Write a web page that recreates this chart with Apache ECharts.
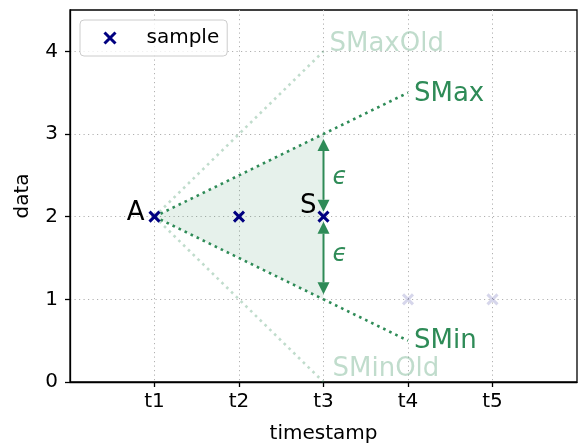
<!DOCTYPE html>
<html>
<head>
<meta charset="utf-8">
<script src="https://cdn.jsdelivr.net/npm/echarts@6/dist/echarts.min.js"></script>
<style>
  html, body { margin: 0; padding: 0; background: #fff; }
  #chart { width: 579px; height: 444px; }
</style>
</head>
<body>
<div id="chart"></div>
<script>
// Axis ticks
const tickValues = [1, 2, 3, 4, 5];
const tickLabels = ['t1', 't2', 't3', 't4', 't5'];
const yTicks = [0, 1, 2, 3, 4];

// Samples already received
const sampleT = [1, 2, 3];
const sampleV = [2, 2, 2];
// Samples still to come
const laterT = [4, 5];
const laterV = [1, 1];

// Slope bounds starting from anchor A
const sMaxT = [1, 4];
const sMaxV = [2, 3.5];
const sMinT = [1, 4];
const sMinV = [2, 0.5];
const sMaxOldT = [1, 3];
const sMaxOldV = [2, 4];
const sMinOldT = [1, 3];
const sMinOldV = [2, 0];

// Corridor between the current bounds
const corridorT = [1, 3, 3];
const corridorV = [2, 3, 1];

// Epsilon deviation arrows at S
const epsT = [3, 3];
const epsFromV = [2, 2];
const epsToV = [3, 1];

// Annotation texts and their anchor points
const annText = ['A', 'S', 'SMax', 'SMaxOld', 'SMin', 'SMinOld', 'ϵ', 'ϵ'];
const annT = [1, 3, 4, 3, 4, 3, 3, 3];
const annV = [2, 2, 3.5, 4, 0.5, 0, 2.5, 1.5];

const GREEN = '#2e8b57';
const GREEN_FADED = 'rgba(46,139,87,0.3)';
const NAVY = '#000080';
const FONT = 'DejaVu Sans';

// Per-annotation styling: offset from anchor, alignment, colour
const annStyle = [
  { dx: -10, dy: -3, align: 'right', color: '#000', size: 26 },
  { dx: -7, dy: -10, align: 'right', color: '#000', size: 26 },
  { dx: 6, dy: 2, align: 'left', color: GREEN, size: 26 },
  { dx: 6, dy: -7, align: 'left', color: GREEN_FADED, size: 26 },
  { dx: 6, dy: 1, align: 'left', color: GREEN, size: 26 },
  { dx: 9, dy: -13, align: 'left', color: GREEN_FADED, size: 26 },
  { dx: 9, dy: 2, align: 'left', color: GREEN, size: 24, italic: true },
  { dx: 9, dy: -3, align: 'left', color: GREEN, size: 24, italic: true }
];

const pairs = (xs, ys) => xs.map((x, i) => [x, ys[i]]);
const X_ICON = 'path://M0,0L10,10M10,0L0,10';

function boundLine(name, xs, ys, color) {
  return {
    name: name,
    type: 'line',
    data: pairs(xs, ys),
    symbol: 'none',
    silent: true,
    z: 3,
    lineStyle: { color: color, width: 2.6, type: [2.6, 4.1] }
  };
}

const chart = echarts.init(document.getElementById('chart'), null, { renderer: 'canvas' });

chart.setOption({
  animation: false,
  textStyle: { fontFamily: FONT },
  grid: {
    left: 70, right: 2, top: 10, bottom: 62,
    outerBoundsMode: 'none',
    containLabel: false,
    show: true, borderColor: '#000', borderWidth: 1.3, backgroundColor: 'transparent'
  },
  legend: {
    left: 80, top: 20,
    data: ['sample'],
    icon: X_ICON,
    itemWidth: 11, itemHeight: 11,
    itemStyle: { color: NAVY, borderColor: NAVY, borderWidth: 3 },
    padding: [6, 8, 6, 23],
    borderColor: '#cccccc', borderWidth: 1, borderRadius: 4,
    backgroundColor: 'rgba(255,255,255,0.8)',
    textStyle: { fontSize: 20, color: '#000', padding: [0, 0, 0, 26], lineHeight: 24, fontFamily: FONT }
  },
  xAxis: {
    type: 'value', min: 0, max: 6, interval: 1,
    name: 'timestamp', nameLocation: 'middle', nameGap: 42,
    nameTextStyle: { fontSize: 20, color: '#000', fontFamily: FONT },
    axisLine: { onZero: false, lineStyle: { color: '#000', width: 1.3 } },
    axisTick: { show: true, length: 5, customValues: tickValues, lineStyle: { color: '#000', width: 1.3 } },
    axisLabel: {
      fontSize: 20, color: '#000', margin: 10, customValues: tickValues,
      formatter: v => { const i = tickValues.indexOf(v); return i >= 0 ? tickLabels[i] : ''; }
    },
    splitLine: { show: true, lineStyle: { color: '#b0b0b0', width: 1, type: [1.2, 3.3] } }
  },
  yAxis: {
    type: 'value', min: 0, max: 4.5, interval: 1,
    name: 'data', nameLocation: 'middle', nameGap: 37,
    nameTextStyle: { fontSize: 20, color: '#000', fontFamily: FONT },
    axisLine: { show: true, onZero: false, lineStyle: { color: '#000', width: 1.3 } },
    axisTick: { show: true, length: 5, customValues: yTicks, lineStyle: { color: '#000', width: 1.3 } },
    axisLabel: { fontSize: 20, color: '#000', margin: 12, customValues: yTicks },
    splitLine: { show: true, lineStyle: { color: '#b0b0b0', width: 1, type: [1.2, 3.3] } }
  },
  series: [
    // shaded corridor
    {
      type: 'custom',
      name: 'corridor',
      silent: true,
      z: 1,
      data: [0],
      renderItem: (params, api) => ({
        type: 'polygon',
        shape: { points: corridorT.map((t, i) => api.coord([t, corridorV[i]])) },
        style: { fill: 'rgba(46,139,87,0.12)', stroke: 'none' }
      })
    },
    boundLine('SMaxOld', sMaxOldT, sMaxOldV, GREEN_FADED),
    boundLine('SMinOld', sMinOldT, sMinOldV, GREEN_FADED),
    boundLine('SMax', sMaxT, sMaxV, GREEN),
    boundLine('SMin', sMinT, sMinV, GREEN),
    // double-headed epsilon arrows
    {
      type: 'custom',
      name: 'epsilon',
      silent: true,
      z: 4,
      data: epsT.map((t, i) => [t, epsFromV[i], epsToV[i]]),
      renderItem: (params, api) => {
        const a = api.coord([api.value(0), api.value(1)]);
        const b = api.coord([api.value(0), api.value(2)]);
        const dir = b[1] > a[1] ? 1 : -1;
        const shrink = 5, head = 12, half = 6;
        const y0 = a[1] + dir * shrink;
        const y1 = b[1] - dir * shrink;
        const x = a[0];
        const st = { fill: GREEN };
        return {
          type: 'group',
          children: [
            { type: 'line', shape: { x1: x, y1: y0 + dir * head, x2: x, y2: y1 - dir * head },
              style: { stroke: GREEN, lineWidth: 2 } },
            { type: 'polygon', shape: { points: [[x, y0], [x - half, y0 + dir * head], [x + half, y0 + dir * head]] }, style: st },
            { type: 'polygon', shape: { points: [[x, y1], [x - half, y1 - dir * head], [x + half, y1 - dir * head]] }, style: st }
          ]
        };
      }
    },
    {
      name: 'later',
      type: 'scatter',
      data: pairs(laterT, laterV),
      symbol: X_ICON,
      symbolSize: 10,
      z: 5,
      silent: true,
      itemStyle: { color: 'rgba(0,0,128,0.2)', borderColor: 'rgba(0,0,128,0.2)', borderWidth: 3 }
    },
    {
      name: 'sample',
      type: 'scatter',
      data: pairs(sampleT, sampleV),
      symbol: X_ICON,
      symbolSize: 10,
      z: 6,
      silent: true,
      itemStyle: { color: NAVY, borderColor: NAVY, borderWidth: 3, opacity: 1 }
    },
    // text annotations
    {
      type: 'custom',
      name: 'annotations',
      silent: true,
      z: 7,
      clip: false,
      data: pairs(annT, annV),
      renderItem: (params, api) => {
        const i = params.dataIndex;
        const s = annStyle[i];
        const p = api.coord([api.value(0), api.value(1)]);
        return {
          type: 'text',
          x: p[0] + s.dx,
          y: p[1] + s.dy,
          style: {
            text: annText[i],
            fill: s.color,
            font: (s.italic ? 'italic ' : '') + s.size + 'px "' + FONT + '"',
            align: s.align,
            verticalAlign: 'middle'
          }
        };
      }
    }
  ]
});
</script>
</body>
</html>
